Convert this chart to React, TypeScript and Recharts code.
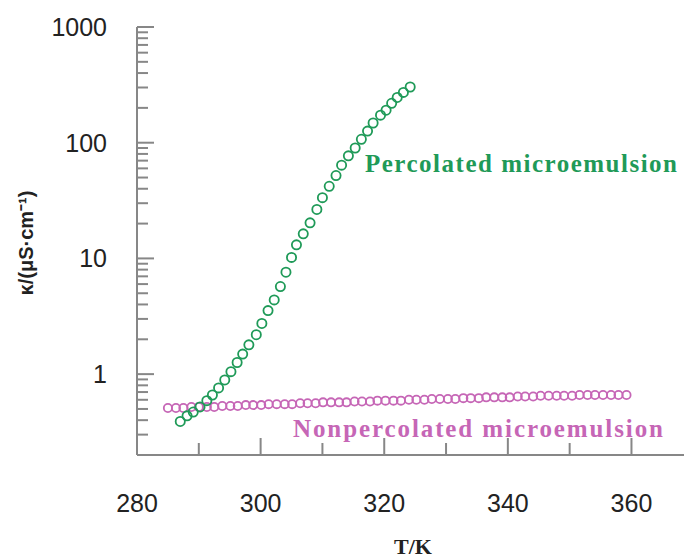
import { ScatterChart, Scatter, XAxis, YAxis } from "recharts"

// percolated microemulsion (green)
const percT = [
  287.0, 288.1, 289.1, 290.2, 291.3, 292.2, 293.2, 294.2, 295.2, 296.2,
  297.1, 298.1, 299.3, 300.2, 301.2, 302.2, 303.2, 304.1, 305.0, 305.8,
  306.9, 308.0, 309.1, 310.0, 311.1, 312.2, 313.1, 314.2, 315.3, 316.3,
  317.3, 318.2, 319.4, 320.3, 321.2, 322.1, 323.1, 324.2,
]
const percK = [
  0.39, 0.436, 0.47, 0.52, 0.59, 0.66, 0.76, 0.89, 1.05, 1.26,
  1.49, 1.79, 2.19, 2.74, 3.54, 4.38, 5.71, 7.6, 10.2, 13.1,
  16.3, 20.3, 26.5, 33.5, 42, 52, 64, 77, 90, 107,
  126, 148, 173, 191, 219, 246, 272, 303,
]

// nonpercolated microemulsion (pink)
const nonpercT = [
  285.0, 286.3, 287.5, 288.8, 290.0, 291.3, 292.5, 293.8, 295.1, 296.3,
  297.6, 298.8, 300.1, 301.3, 302.6, 303.9, 305.1, 306.4, 307.6, 308.9,
  310.1, 311.4, 312.7, 313.9, 315.2, 316.4, 317.7, 318.9, 320.2, 321.5,
  322.7, 324.0, 325.2, 326.5, 327.7, 329.0, 330.3, 331.5, 332.8, 334.0,
  335.3, 336.5, 337.8, 339.1, 340.3, 341.6, 342.8, 344.1, 345.3, 346.6,
  347.9, 349.1, 350.4, 351.6, 352.9, 354.1, 355.4, 356.7, 357.9, 359.2,
]
const nonpercK = [
  0.51, 0.51, 0.51, 0.52, 0.52, 0.52, 0.52, 0.53, 0.53, 0.53,
  0.54, 0.54, 0.54, 0.55, 0.55, 0.55, 0.55, 0.56, 0.56, 0.56,
  0.57, 0.57, 0.57, 0.57, 0.58, 0.58, 0.58, 0.59, 0.59, 0.59,
  0.59, 0.6, 0.6, 0.6, 0.61, 0.61, 0.61, 0.61, 0.62, 0.62,
  0.62, 0.63, 0.63, 0.63, 0.63, 0.64, 0.64, 0.64, 0.65, 0.65,
  0.65, 0.65, 0.65, 0.66, 0.66, 0.66, 0.66, 0.66, 0.66, 0.66,
]

const xTicks = [280, 290, 300, 310, 320, 330, 340, 350, 360]
const xLabels = [280, 300, 320, 340, 360]
const yTicks = [
  0.2, 0.3, 0.4, 0.5, 0.6, 0.7, 0.8, 0.9,
  1, 2, 3, 4, 5, 6, 7, 8, 9,
  10, 20, 30, 40, 50, 60, 70, 80, 90,
  100, 200, 300, 400, 500, 600, 700, 800, 900,
  1000,
]
const yLabels = [1, 10, 100, 1000]

const percData = percT.map((T, i) => ({ T, k: percK[i] }))
const nonpercData = nonpercT.map((T, i) => ({ T, k: nonpercK[i] }))

const GREEN = "#1f9a58"
const PINK = "#c666b6"
const AXIS = "#878787"
const sans = "'Liberation Sans', Arial, sans-serif"
const serif = "'Liberation Serif', 'Times New Roman', serif"

function XTick(props: any) {
  const { x, y, payload } = props
  const major = xLabels.includes(payload.value)
  return (
    <g>
      <line x1={x} x2={x} y1={y} y2={y - (major ? 17 : 12)} stroke={AXIS} strokeWidth={2} />
      {major && (
        <text x={x} y={y + 48} textAnchor="middle" dominantBaseline="central" fontFamily={sans} fontSize={25} fill="#222">
          {payload.value}
        </text>
      )}
    </g>
  )
}

function YTick(props: any) {
  const { x, y, payload } = props
  const major = yLabels.includes(payload.value)
  return (
    <g>
      <line x1={x} x2={x + (major ? 17 : 11)} y1={y} y2={y} stroke={AXIS} strokeWidth={2} />
      {major && (
        <text x={x - 30} y={y} textAnchor="end" dominantBaseline="central" fontFamily={sans} fontSize={25} fill="#222">
          {payload.value}
        </text>
      )}
    </g>
  )
}

const ring = (color: string, r: number) => (props: any) =>
  <circle cx={props.cx} cy={props.cy} r={r} fill="none" stroke={color} strokeWidth={1.8} />

export default function App() {
  return (
    <div style={{ position: "absolute", left: 0, top: 0, width: 684, height: 560, background: "#fff" }}>
      <ScatterChart width={684} height={560} margin={{ top: 27, right: 0, bottom: 0, left: 0 }}>
        <XAxis
          dataKey="T"
          type="number"
          domain={[280, 368.5]}
          ticks={xTicks}
          interval={0}
          tick={<XTick />}
          tickLine={false}
          tickSize={0}
          tickMargin={0}
          height={105}
          axisLine={{ stroke: AXIS, strokeWidth: 2 }}
          allowDataOverflow
        />
        <XAxis
          xAxisId="top"
          orientation="top"
          type="number"
          domain={[280, 368.5]}
          tick={false}
          tickLine={false}
          height={0}
          axisLine={{ stroke: AXIS, strokeWidth: 2 }}
        />
        <YAxis
          dataKey="k"
          type="number"
          scale="log"
          domain={[0.2, 1000]}
          ticks={yTicks}
          interval={0}
          tick={<YTick />}
          tickLine={false}
          tickSize={0}
          tickMargin={0}
          width={137}
          axisLine={{ stroke: AXIS, strokeWidth: 2 }}
          allowDataOverflow
        />
        <Scatter data={nonpercData} shape={ring(PINK, 4.1)} isAnimationActive={false} />
        <Scatter data={percData} shape={ring(GREEN, 4.6)} isAnimationActive={false} />
      </ScatterChart>
      <svg width={684} height={560} style={{ position: "absolute", left: 0, top: 0, pointerEvents: "none" }}>
        <text x={365} y={172} fontFamily={serif} fontWeight="bold" fontSize={25} letterSpacing={1.5} fill={GREEN}>
          Percolated microemulsion
        </text>
        <text x={293} y={437} fontFamily={serif} fontWeight="bold" fontSize={25} letterSpacing={1.9} fill={PINK}>
          Nonpercolated microemulsion
        </text>
        <text x={413} y={546} textAnchor="middle" dominantBaseline="central" fontFamily={serif} fontWeight="bold" fontSize={22} fill="#222">
          T/K
        </text>
        <text
          x={26}
          y={243}
          transform="rotate(-90 26 243)"
          textAnchor="middle"
          dominantBaseline="central"
          fontFamily={sans}
          fontWeight="bold"
          fontSize={20}
          fill="#222"
        >
          κ/(μS·cm⁻¹)
        </text>
      </svg>
    </div>
  )
}
